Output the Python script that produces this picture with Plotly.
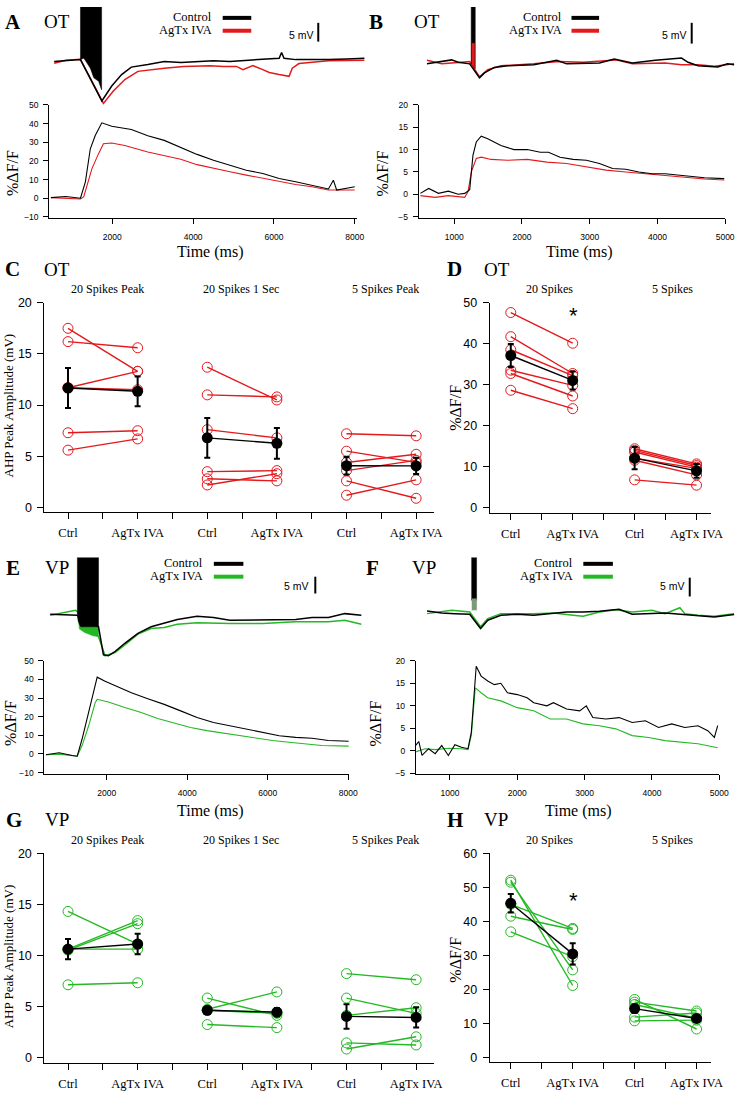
import plotly.graph_objects as go

W, H = 750, 1095
RED = "#e3191c"
GREEN = "#24b824"
SERIF = "Liberation Serif"
SANS = "Liberation Sans"

# ---------------- Panel A : OT, 20 spikes ----------------
a_v_ctrl_t = [560, 850, 1210, 1740, 1985, 2230, 2470, 2880, 3285, 3700, 4100, 4500, 4910, 5320, 5720, 6130, 6190, 6250, 6540, 7000, 7350, 7800, 8240]
a_v_ctrl_mv = [0.0, 0.3, 0.5, -11.1, -6.9, -3.7, -1.6, -0.9, 0.0, -0.3, -0.1, 0.2, 0.0, 0.3, 0.5, 0.9, 2.5, 0.9, 0.5, 0.4, 0.5, 0.7, 0.9]
a_v_agtx_t = [560, 845, 1210, 1780, 2025, 2310, 2635, 2960, 3285, 3770, 4420, 4750, 5070, 5235, 5480, 5725, 5885, 6130, 6375, 6455, 6620, 7350, 8240]
a_v_agtx_mv = [-0.5, 0.3, 0.6, -11.8, -8.3, -5.1, -2.8, -2.3, -1.9, -1.4, -1.2, -1.4, -1.4, -2.3, -1.2, -2.3, -3.1, -3.7, -4.2, -1.9, -0.6, 0.2, 0.3]
a_burst_t = [1211, 1211, 1735, 1735, 1700, 1660, 1540, 1455, 1295, 1211]
a_burst_mv = [0.5, 30, 30, -8.0, -6.9, -5.6, -4.6, -1.9, 0.9, 0.5]
a_f_ctrl_t = [480, 846, 1211, 1333, 1455, 1577, 1740, 1984, 2472, 2878, 3285, 3691, 4098, 4504, 4911, 5317, 5724, 6130, 6537, 6943, 7350, 7472, 7553, 8000]
a_f_ctrl = [0.35, 0.9, 0.0, 8.8, 26.5, 33.6, 40.4, 38.6, 36.8, 33.5, 31.0, 27.4, 23.5, 20.4, 17.7, 15.0, 13.3, 10.6, 8.8, 7.1, 5.0, 9.7, 4.4, 6.2]
a_f_agtx_t = [480, 1211, 1293, 1496, 1659, 1780, 1984, 2309, 2878, 3285, 3691, 4098, 4504, 4911, 5317, 5724, 6130, 6537, 6943, 7350, 8000]
a_f_agtx = [0.35, -0.4, 0.9, 15.9, 23.9, 29.2, 29.6, 28.3, 24.8, 23.0, 20.9, 18.0, 15.9, 14.2, 12.4, 10.6, 8.8, 7.4, 6.2, 4.4, 4.4]

# ---------------- Panel B : OT, 5 spikes ----------------
b_v_ctrl_t = [597, 719, 961, 1058, 1228, 1373, 1446, 1592, 1786, 2174, 2513, 2659, 3144, 3362, 3629, 3968, 4356, 4453, 4599, 4890, 5035, 5132]
b_v_ctrl_mv = [-0.2, 0.2, 0.8, 0.2, -0.2, -3.75, -2.5, -1.1, -0.7, -0.4, 0.7, -0.2, 0.0, 1.0, 0.0, 0.7, 1.25, 0.2, -0.7, -1.0, -0.2, -0.4]
b_v_agtx_t = [597, 816, 1107, 1228, 1373, 1495, 1689, 2174, 2537, 2901, 3386, 3629, 4114, 4356, 4599, 4841, 5132]
b_v_agtx_mv = [0.7, -0.2, 0.2, 0.4, -3.5, -1.7, -0.7, -0.2, 0.4, 0.2, 0.8, -0.2, 0.0, -0.4, -0.4, -0.8, -0.2]
b_burst_ctrl_t = [1250, 1250, 1310, 1310]
b_burst_ctrl_mv = [-0.2, 30, 30, -1.5]
b_burst_agtx_t = [1262, 1262, 1300, 1300]
b_burst_agtx_mv = [-0.5, 5.0, 5.0, -1.2]
b_f_ctrl_t = [500, 622, 767, 913, 1058, 1155, 1228, 1276, 1325, 1398, 1495, 1689, 1883, 2077, 2271, 2392, 2562, 2756, 2950, 3144, 3338, 3532, 3726, 3920, 4114, 4308, 4502, 4696, 4987]
b_f_ctrl = [0.2, 1.3, 0.2, 0.7, 0.0, 0.2, 1.0, 8.7, 11.7, 13.0, 12.4, 10.9, 10.0, 10.0, 9.4, 9.4, 8.3, 7.8, 7.6, 6.9, 5.75, 5.6, 5.0, 4.6, 4.6, 4.3, 3.9, 3.7, 3.5]
b_f_agtx_t = [500, 719, 913, 1155, 1204, 1252, 1325, 1398, 1543, 1786, 2077, 2368, 2659, 2950, 3241, 3532, 3823, 4114, 4405, 4696, 4987]
b_f_agtx = [-0.3, -0.7, -0.3, -0.7, 0.6, 5.0, 8.0, 8.3, 7.8, 7.6, 7.8, 7.2, 6.9, 6.1, 5.4, 5.0, 4.6, 4.3, 3.9, 3.4, 3.2]

# ---------------- Panel E : VP, 20 spikes ----------------
e_v_ctrl_t = [596, 980, 1266, 1796, 1918, 2041, 2204, 2449, 2775, 3102, 3428, 3755, 4244, 4652, 5060, 5876, 6692, 7100, 7508, 7916, 8324]
e_v_ctrl_mv = [0.0, -0.3, -0.3, -3.8, -12.3, -12.6, -11.3, -8.8, -5.8, -3.8, -2.6, -1.6, -0.6, -1.0, -1.8, -1.6, -1.6, -1.0, -1.0, 0.2, -0.3]
e_v_agtx_t = [596, 980, 1225, 1282, 1796, 1959, 2204, 2449, 2775, 3102, 3428, 3755, 4244, 5060, 5876, 6692, 7508, 7916, 8324]
e_v_agtx_mv = [-0.3, 0.7, 1.2, 0.7, -6.8, -12.6, -11.6, -9.3, -6.0, -4.3, -4.0, -3.0, -2.6, -2.8, -2.8, -2.3, -2.3, -1.8, -3.0]
e_burst_ctrl_t = [1270, 1270, 1796, 1796, 1350, 1290, 1270]
e_burst_ctrl_mv = [-0.3, 30, 30, -3.8, -3.8, -2.0, -0.3]
e_burst_agtx_t = [1282, 1320, 1450, 1650, 1796, 1796, 1282]
e_burst_agtx_mv = [0.0, -4.5, -5.5, -6.5, -6.8, -3.5, 0.0]
e_f_ctrl_t = [490, 817, 1143, 1266, 1388, 1551, 1714, 1763, 1959, 2204, 2612, 3020, 3428, 3836, 4244, 4652, 5060, 5468, 5876, 6284, 6692, 7100, 7508, 8014]
e_f_ctrl = [-0.4, 0.6, -0.8, -1.2, 8.0, 22.2, 36.4, 41.2, 39.0, 36.7, 32.8, 29.6, 26.6, 23.1, 19.6, 16.9, 15.1, 13.4, 11.9, 9.8, 8.9, 8.4, 7.2, 6.8]
e_f_agtx_t = [490, 817, 1266, 1388, 1551, 1714, 1763, 2041, 2449, 2857, 3265, 3673, 4081, 4489, 4897, 5305, 5713, 6121, 6529, 6937, 7345, 8014]
e_f_agtx = [-0.4, -0.1, -1.2, 4.5, 15.1, 27.5, 29.3, 27.9, 24.9, 22.2, 19.0, 16.5, 14.2, 12.5, 11.2, 9.5, 8.4, 7.2, 6.3, 5.4, 4.5, 4.2]

# ---------------- Panel F : VP, 5 spikes ----------------
f_v_ctrl_t = [659, 878, 1073, 1293, 1454, 1561, 1756, 2000, 2244, 2537, 2732, 2976, 3220, 3512, 3707, 4195, 4439, 4683, 4927, 5220]
f_v_ctrl_mv = [0.8, 0.2, 0.0, -0.2, -4.5, -2.0, -0.5, -0.2, -0.5, 0.0, 0.5, 0.5, 0.7, 1.3, -0.2, 0.2, -0.2, -0.8, -1.0, -0.3]
f_v_agtx_t = [659, 1024, 1293, 1454, 1561, 1756, 2244, 2537, 2829, 2976, 3220, 3463, 3707, 4000, 4195, 4415, 4488, 4683, 4927, 5220]
f_v_agtx_mv = [0.0, 1.0, 0.5, -4.0, -1.5, 0.0, 0.0, 0.2, -0.5, -0.8, 0.5, 1.2, 0.5, 1.0, 0.0, 1.8, 0.0, -0.5, -0.8, 0.0]
f_burst_ctrl_t = [1322, 1322, 1395, 1395]
f_burst_ctrl_mv = [4.0, 30, 30, 4.0]
f_burst_agtx_t = [1327, 1327, 1395, 1395]
f_burst_agtx_mv = [1.0, 4.5, 4.5, 1.0]
f_f_ctrl_t = [488, 537, 585, 683, 780, 878, 976, 1073, 1171, 1268, 1317, 1390, 1463, 1561, 1659, 1756, 1854, 2000, 2146, 2244, 2439, 2537, 2732, 2927, 3024, 3122, 3317, 3512, 3707, 3902, 4098, 4293, 4488, 4683, 4829, 4927, 4976]
f_f_ctrl = [1.2, 2.1, -1.0, 0.5, -0.6, 1.2, -1.0, 1.4, 0.8, 0.5, 4.1, 18.8, 16.6, 15.5, 14.7, 15.0, 12.9, 12.5, 11.8, 10.7, 10.0, 10.7, 9.3, 8.9, 10.0, 7.4, 7.1, 7.4, 6.3, 6.7, 5.2, 6.0, 5.2, 5.6, 4.5, 3.0, 5.6]
f_f_agtx_t = [488, 634, 780, 976, 1171, 1268, 1317, 1376, 1463, 1561, 1756, 2000, 2244, 2488, 2732, 2976, 3220, 3463, 3707, 3951, 4195, 4439, 4683, 4976]
f_f_agtx = [-0.2, 0.5, 0.3, 0.6, 0.5, 0.3, 3.4, 14.0, 12.9, 11.8, 11.1, 9.6, 8.9, 7.1, 7.1, 6.0, 5.6, 4.9, 3.4, 3.0, 2.3, 1.9, 1.6, 0.7]

# ---------------- Panel C : OT AHP amplitude ----------------
c_titles = ["20 Spikes Peak", "20 Spikes 1 Sec", "5 Spikes Peak"]
c_ctrl = [[17.5, 16.2, 11.7, 11.7, 7.3, 5.6],
          [13.7, 11.0, 7.6, 3.5, 2.8, 2.2],
          [7.2, 5.5, 4.4, 3.6, 2.6, 1.2]]
c_agtx = [[13.3, 15.6, 13.3, 11.5, 7.5, 6.7],
          [10.5, 10.8, 6.8, 3.6, 2.6, 3.3],
          [7.0, 4.4, 5.2, 4.6, 0.9, 2.7]]
c_mean = [11.67, 11.35, 6.8, 6.27, 4.08, 4.06]
c_sem = [1.95, 1.45, 1.95, 1.5, 0.85, 0.8]

# ---------------- Panel D : OT %dF/F ----------------
d_titles = ["20 Spikes", "5 Spikes"]
d_ctrl = [[47.6, 41.7, 38.5, 33.5, 32.7, 28.6],
          [14.3, 13.9, 13.5, 12.0, 11.5, 6.7]]
d_agtx = [[40.1, 32.7, 32.2, 29.8, 27.2, 24.1],
          [10.6, 10.2, 9.8, 9.5, 7.9, 5.4]]
d_mean = [37.1, 31.0, 12.0, 8.9]
d_sem = [2.8, 2.2, 2.7, 1.7]

# ---------------- Panel G : VP AHP amplitude ----------------
g_ctrl = [[14.3, 10.6, 10.5, 10.6, 7.1],
          [5.8, 4.7, 4.6, 4.6, 3.2],
          [8.2, 5.8, 4.1, 1.4, 0.8]]
g_agtx = [[11.1, 13.4, 13.1, 10.6, 7.3],
          [4.1, 6.4, 4.3, 4.4, 2.9],
          [7.6, 4.3, 4.85, 1.2, 2.0]]
g_mean = [10.6, 11.1, 4.6, 4.42, 4.0, 3.9]
g_sem = [1.0, 1.0, 0.3, 0.4, 1.2, 1.0]

# ---------------- Panel H : VP %dF/F ----------------
h_ctrl = [[52.1, 51.5, 45.0, 41.5, 36.9],
          [17.0, 16.2, 15.5, 11.8, 10.7]]
h_agtx = [[21.1, 25.7, 37.9, 37.6, 29.6],
          [8.3, 13.6, 11.5, 13.0, 10.9]]
h_mean = [45.3, 30.4, 14.3, 11.4]
h_sem = [2.7, 3.1, 1.2, 0.6]

cond_labels = ["Ctrl", "AgTx IVA"]
legend_labels = ["Control", "AgTx IVA"]

# =========================================================
fig = go.Figure()
layout = dict(width=W, height=H, margin=dict(l=0, r=0, t=0, b=0, pad=0),
              paper_bgcolor="white", plot_bgcolor="rgba(0,0,0,0)",
              showlegend=False, annotations=[], shapes=[])


def fx(px):
    return px / W


def fy(py):
    return 1 - py / H


axes = {}
counter = [0]

AX_STYLE = dict(showline=True, linecolor="black", linewidth=1, ticks="outside",
                ticklen=5, tickwidth=1, tickcolor="black", showgrid=False,
                zeroline=False, fixedrange=True)


def add_axes(key, xpx, ypx, xr, yr, xopts=None, yopts=None):
    counter[0] += 1
    n = counter[0]
    xname = "xaxis" if n == 1 else "xaxis%d" % n
    yname = "yaxis" if n == 1 else "yaxis%d" % n
    xref = "x" if n == 1 else "x%d" % n
    yref = "y" if n == 1 else "y%d" % n
    xd = dict(domain=[fx(xpx[0]), fx(xpx[1])], range=xr, anchor=yref,
              showgrid=False, zeroline=False, fixedrange=True, visible=False)
    yd = dict(domain=[fy(ypx[1]), fy(ypx[0])], range=yr, anchor=xref,
              showgrid=False, zeroline=False, fixedrange=True, visible=False)
    if xopts is not None:
        xd.update(AX_STYLE)
        xd.update(xopts)
        xd["visible"] = True
    if yopts is not None:
        yd.update(AX_STYLE)
        yd.update(yopts)
        yd["visible"] = True
    layout[xname] = xd
    layout[yname] = yd
    axes[key] = (xref, yref)


small_tick = dict(family=SANS, size=8.5, color="black")
big_tick = dict(family=SANS, size=12.5, color="black")
cat_tick = dict(family=SERIF, size=12.5, color="black")

# trace panels
add_axes("Av", (50, 372), (0, 100), [439, 8293], [-12.5, 15.28])
add_axes("Af", (50, 362), (99, 213), [439, 8049], [-10.4, 50],
         xopts=dict(tickvals=[2000, 4000, 6000, 8000], tickfont=small_tick, ticklabelstandoff=6),
         yopts=dict(tickvals=[-10, 0, 10, 20, 30, 40, 50], tickfont=small_tick, ticklabelstandoff=3))
add_axes("Bv", (425, 747), (0, 100), [476, 5161], [-10.83, 14.17])
add_axes("Bf", (425, 736), (99, 213), [476, 5001], [-5.24, 20],
         xopts=dict(tickvals=[1000, 2000, 3000, 4000, 5000], tickfont=small_tick, ticklabelstandoff=6),
         yopts=dict(tickvals=[-5, 0, 5, 10, 15, 20], tickfont=small_tick, ticklabelstandoff=3))
add_axes("Ev", (45, 370), (556.7, 660), [450, 8405], [-13.8, 17.2])
add_axes("Ef", (45, 354), (661, 775), [450, 8014], [-10.5, 50],
         xopts=dict(tickvals=[2000, 4000, 6000, 8000], tickfont=small_tick, ticklabelstandoff=6),
         yopts=dict(tickvals=[-10, 0, 10, 20, 30, 40, 50], tickfont=small_tick, ticklabelstandoff=3))
add_axes("Fv", (420, 750), (556.7, 660), [463, 5293], [-14, 17])
add_axes("Ff", (422, 730), (661, 775), [493, 5000], [-5, 20],
         xopts=dict(tickvals=[1000, 2000, 3000, 4000, 5000], tickfont=small_tick, ticklabelstandoff=6),
         yopts=dict(tickvals=[-5, 0, 5, 10, 15, 20], tickfont=small_tick, ticklabelstandoff=3))


def cat_ticks(ngroups):
    vals, txt = [], []
    for g in range(ngroups):
        vals += [2 * g + 1, 2 * g + 1.5, 2 * g + 2]
        txt += [cond_labels[0], "", cond_labels[1]]
        if g < ngroups - 1:
            vals.append(2 * g + 2.5)
            txt.append("")
    return vals, txt


v3, t3 = cat_ticks(3)
v2, t2 = cat_ticks(2)
cat_x = dict(tickfont=cat_tick, ticklen=6, ticklabelstandoff=3)
add_axes("C", (45, 440), (299, 511), [0.66, 6.25], [-0.48, 20],
         xopts=dict(cat_x, tickvals=v3, ticktext=t3),
         yopts=dict(tickvals=[0, 5, 10, 15, 20], tickfont=big_tick, ticklen=6, ticklabelstandoff=3))
add_axes("D", (497, 722), (299, 512), [0.66, 4.24], [-1.5, 50],
         xopts=dict(cat_x, tickvals=v2, ticktext=t2),
         yopts=dict(tickvals=[0, 10, 20, 30, 40, 50], tickfont=big_tick, ticklen=6, ticklabelstandoff=3))
add_axes("G", (45, 440), (855.7, 1068), [0.66, 6.25], [-0.6, 20],
         xopts=dict(cat_x, tickvals=v3, ticktext=t3),
         yopts=dict(tickvals=[0, 5, 10, 15, 20], tickfont=big_tick, ticklen=6, ticklabelstandoff=3))
add_axes("H", (497, 722), (855.7, 1067), [0.66, 4.24], [-1.5, 60],
         xopts=dict(cat_x, tickvals=v2, ticktext=t2),
         yopts=dict(tickvals=[0, 10, 20, 30, 40, 50, 60], tickfont=big_tick, ticklen=6, ticklabelstandoff=3))


def line(key, x, y, color, width=1.2):
    xr, yr = axes[key]
    fig.add_trace(go.Scatter(x=x, y=y, mode="lines", line=dict(color=color, width=width),
                             xaxis=xr, yaxis=yr, hoverinfo="skip"))


def block(key, x, y, color):
    xr, yr = axes[key]
    fig.add_trace(go.Scatter(x=x, y=y, mode="lines", fill="toself", fillcolor=color,
                             line=dict(color=color, width=0.5), xaxis=xr, yaxis=yr,
                             hoverinfo="skip"))


# Panel A
line("Av", a_v_agtx_t, a_v_agtx_mv, RED, 1.5)
block("Av", a_burst_t, a_burst_mv, "black")
line("Av", a_v_ctrl_t, a_v_ctrl_mv, "black", 1.5)
line("Af", a_f_agtx_t, a_f_agtx, RED, 1.1)
line("Af", a_f_ctrl_t, a_f_ctrl, "black", 1.1)
# Panel B
line("Bv", b_v_agtx_t, b_v_agtx_mv, RED, 1.5)
line("Bv", b_v_ctrl_t, b_v_ctrl_mv, "black", 1.5)
block("Bv", b_burst_ctrl_t, b_burst_ctrl_mv, "black")
block("Bv", b_burst_agtx_t, b_burst_agtx_mv, RED)
line("Bf", b_f_agtx_t, b_f_agtx, RED, 1.1)
line("Bf", b_f_ctrl_t, b_f_ctrl, "black", 1.1)
# Panel E
block("Ev", e_burst_agtx_t, e_burst_agtx_mv, GREEN)
line("Ev", e_v_agtx_t, e_v_agtx_mv, GREEN, 1.5)
block("Ev", e_burst_ctrl_t, e_burst_ctrl_mv, "black")
line("Ev", e_v_ctrl_t, e_v_ctrl_mv, "black", 1.5)
line("Ef", e_f_agtx_t, e_f_agtx, GREEN, 1.1)
line("Ef", e_f_ctrl_t, e_f_ctrl, "black", 1.1)
# Panel F
line("Fv", f_v_agtx_t, f_v_agtx_mv, GREEN, 1.5)
line("Fv", f_v_ctrl_t, f_v_ctrl_mv, "black", 1.5)
block("Fv", f_burst_ctrl_t, f_burst_ctrl_mv, "black")
block("Fv", f_burst_agtx_t, f_burst_agtx_mv, "#7a9a7a")
line("Ff", f_f_agtx_t, f_f_agtx, GREEN, 1.1)
line("Ff", f_f_ctrl_t, f_f_ctrl, "black", 1.1)


def pair_panel(key, ctrl_groups, agtx_groups, means, sems, color):
    xr, yr = axes[key]
    for g, (cs, ags) in enumerate(zip(ctrl_groups, agtx_groups)):
        x0 = 2 * g + 1
        for c, a in zip(cs, ags):
            fig.add_trace(go.Scatter(
                x=[x0, x0 + 1], y=[c, a], mode="lines+markers",
                line=dict(color=color, width=1.4),
                marker=dict(symbol="circle-open", size=10, color=color, line=dict(width=1)),
                xaxis=xr, yaxis=yr, hoverinfo="skip"))
    for g in range(len(ctrl_groups)):
        x0 = 2 * g + 1
        fig.add_trace(go.Scatter(
            x=[x0, x0 + 1], y=[means[2 * g], means[2 * g + 1]], mode="lines+markers",
            line=dict(color="black", width=1.4),
            marker=dict(symbol="circle", size=11, color="black"),
            error_y=dict(type="data", array=[sems[2 * g], sems[2 * g + 1]],
                         color="black", thickness=2, width=3),
            xaxis=xr, yaxis=yr, hoverinfo="skip"))


pair_panel("C", c_ctrl, c_agtx, c_mean, c_sem, RED)
pair_panel("D", d_ctrl, d_agtx, d_mean, d_sem, RED)
pair_panel("G", g_ctrl, g_agtx, g_mean, g_sem, GREEN)
pair_panel("H", h_ctrl, h_agtx, h_mean, h_sem, GREEN)


def text(px, py, s, size, family=SERIF, xanchor="center", angle=0, bold=False):
    layout["annotations"].append(dict(
        x=fx(px), y=fy(py), xref="paper", yref="paper", text=("<b>%s</b>" % s) if bold else s,
        showarrow=False, xanchor=xanchor, yanchor="middle", textangle=angle,
        font=dict(family=family, size=size, color="black")))


def seg(x0, y0, x1, y1, color, width):
    layout["shapes"].append(dict(type="line", xref="paper", yref="paper",
                                 x0=fx(x0), y0=fy(y0), x1=fx(x1), y1=fy(y1),
                                 line=dict(color=color, width=width)))


# panel letters and cell types
for letter, lx, ly, cell, cx in [("A", 13, 15, "OT", 58), ("B", 382, 15, "OT", 433),
                                 ("C", 13, 265, "OT", 58), ("D", 461, 265, "OT", 504),
                                 ("E", 13, 567, "VP", 58), ("F", 378, 567, "VP", 430),
                                 ("G", 14, 822, "VP", 58), ("H", 462, 822, "VP", 503)]:
    text(lx, ly, letter, 21, bold=True)
    text(cx, ly, cell, 19)

# legends and scale bars for trace panels
for (tx, ly, lx0, lx1, col, sx, sy, bx, by0, by1) in [
        (217, 10, 226, 255, RED, 306, 28, 323, 16, 35),
        (572, 10, 580, 608, RED, 685, 28, 702, 16, 37),
        (208, 562, 217, 247, GREEN, 301, 585, 320, 576, 593),
        (584, 562, 592, 622, GREEN, 683, 585, 700, 577, 596)]:
    text(tx, ly, legend_labels[0], 12.5, xanchor="right")
    text(tx, ly + 13, legend_labels[1], 12.5, xanchor="right")
    seg(lx0, ly + 1, lx1, ly + 1, "black", 4)
    seg(lx0, ly + 14, lx1, ly + 14, col, 4)
    text(sx, sy, "5 mV", 10.5, family=SANS)
    seg(bx, by0, bx, by1, "black", 2)

# axis titles for trace panels
for (px, py) in [(214, 248), (588, 248), (214, 813), (587, 813)]:
    text(px, py, "Time (ms)", 16)
for (px, py) in [(12, 168), (388, 168), (10, 724), (381, 724)]:
    text(px, py, "%ΔF/F", 16, angle=-90)

# group titles for summary panels
for py in (285, 842):
    for px, s in zip([109, 245, 391], c_titles):
        text(px, py, s, 12)
    for px, s in zip([558, 683], d_titles):
        text(px, py, s, 12)
text(9, 403, "AHP Peak Amplitude (mV)", 13, angle=-90)
text(9, 960, "AHP Peak Amplitude (mV)", 13, angle=-90)
text(462, 405, "%ΔF/F", 16, angle=-90)
text(462, 963, "%ΔF/F", 16, angle=-90)
text(582, 312, "*", 22, family=SANS)
text(582, 903, "*", 22, family=SANS)

fig.update_layout(**layout)
fig.write_html("out.html", config={"displayModeBar": False, "staticPlot": True},
               post_script="document.body.style.margin='0';document.body.style.padding='0';document.body.style.overflow='hidden';")
